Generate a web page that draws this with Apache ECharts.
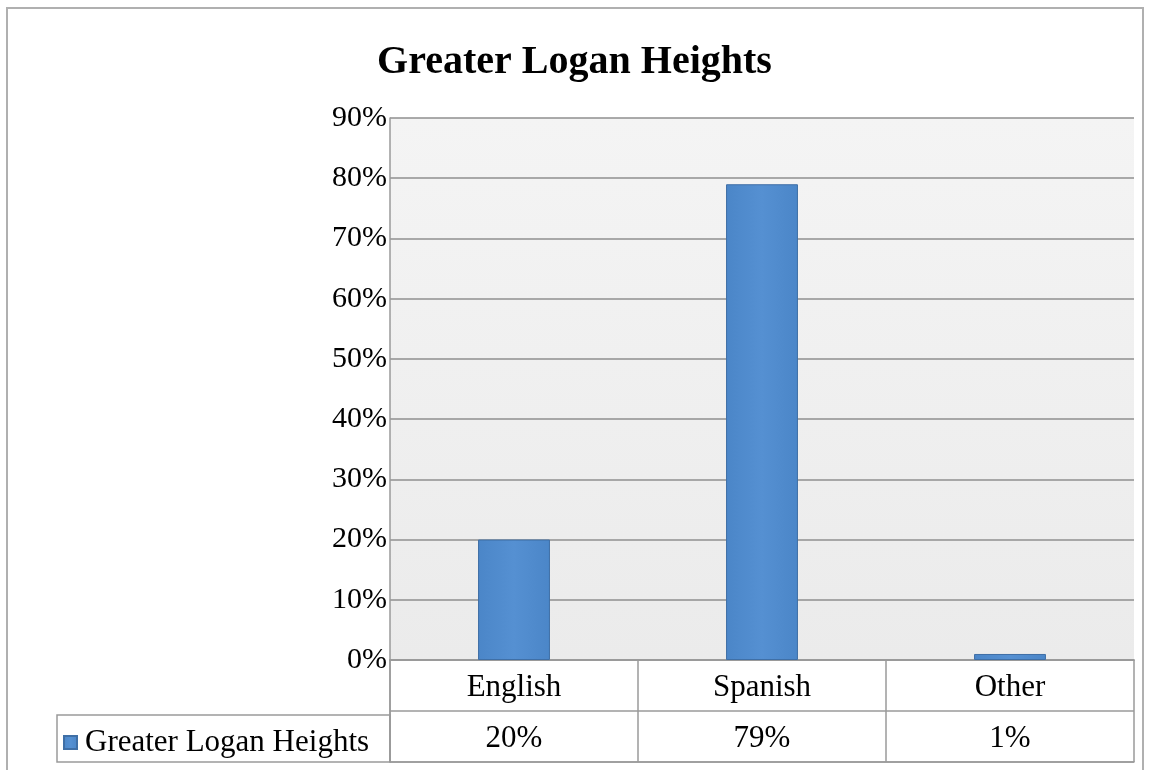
<!DOCTYPE html>
<html>
<head>
<meta charset="utf-8">
<script src="https://cdn.jsdelivr.net/npm/echarts@6/dist/echarts.min.js"></script>
<style>
  html, body { margin: 0; padding: 0; background: #fff; }
  #chart { width: 1149px; height: 770px; }
</style>
</head>
<body>
<div id="chart"></div>
<script>
// data
const chartTitle = 'Greater Logan Heights'
const categories = ['English', 'Spanish', 'Other']
const seriesName = 'Greater Logan Heights'
const shares = [20, 79, 1]
const yTicks = { min: 0, max: 90, step: 10 }

const serif = "'Liberation Serif', 'Times New Roman', serif"
const gridColor = '#9a9a9a'

const chart = echarts.init(document.getElementById('chart'))

const options = {
  backgroundColor: '#fff',
  animation: false,
  title: {
    text: chartTitle,
    left: 'center',
    top: 38,
    textStyle: { fontFamily: serif, fontSize: 40, fontWeight: 'bold', color: '#000' }
  },
  legend: {
    data: [seriesName],
    left: 58,
    top: 722,
    icon: 'rect',
    itemWidth: 13,
    itemHeight: 13,
    itemGap: 4,
    textStyle: { fontFamily: serif, fontSize: 31, color: '#000', padding: [0, 0, 0, 3] }
  },
  grid: [
    { left: 390, right: 15, top: 118, height: 542, containLabel: false,
      show: true, borderWidth: 0,
      backgroundColor: new echarts.graphic.LinearGradient(0, 0, 0, 1, [
        { offset: 0, color: '#f4f4f4' },
        { offset: 1, color: '#ebebeb' }
      ]) },
    { left: 390, right: 15, top: 660, height: 102, containLabel: false }
  ],
  xAxis: [
    {
      type: 'category',
      gridIndex: 0,
      data: categories,
      axisLine: { show: true, lineStyle: { color: gridColor, width: 1.5 } },
      axisTick: { show: false },
      axisLabel: { show: false }
    },
    {
      type: 'category',
      gridIndex: 1,
      position: 'top',
      data: categories,
      axisLine: { show: true, lineStyle: { color: gridColor, width: 1.5 } },
      axisTick: { show: false },
      splitLine: { show: true, lineStyle: { color: gridColor, width: 1.5 } },
      axisLabel: { margin: -28, verticalAlign: 'middle', fontFamily: serif, fontSize: 31, color: '#000' }
    },
    {
      type: 'category',
      gridIndex: 1,
      position: 'bottom',
      data: shares.map(v => v + '%'),
      axisLine: { show: true, lineStyle: { color: gridColor, width: 1.5 } },
      axisTick: { show: false },
      axisLabel: { margin: -23, verticalAlign: 'middle', fontFamily: serif, fontSize: 31, color: '#000' }
    }
  ],
  yAxis: [
    {
      type: 'value',
      gridIndex: 0,
      min: yTicks.min,
      max: yTicks.max,
      interval: yTicks.step,
      axisLine: { show: true, lineStyle: { color: gridColor, width: 1.5 } },
      axisTick: { show: false },
      axisLabel: { formatter: '{value}%', margin: 3, fontFamily: serif, fontSize: 30, color: '#000' },
      splitLine: { show: true, lineStyle: { color: '#8f8f8f', width: 1.5 } }
    },
    {
      type: 'category',
      gridIndex: 1,
      data: ['', ''],
      axisLine: { show: true, lineStyle: { color: gridColor, width: 1.5 } },
      axisTick: { show: false },
      axisLabel: { show: false },
      splitLine: { show: true, lineStyle: { color: gridColor, width: 1.5 } }
    }
  ],
  graphic: [
    // outer frame
    { type: 'rect', shape: { x: 7, y: 8, width: 1136, height: 800 }, silent: true,
      style: { fill: 'none', stroke: '#b0b0b0', lineWidth: 2 } },
    // legend cell of the data table
    { type: 'rect', shape: { x: 57, y: 715, width: 333, height: 47 }, silent: true,
      style: { fill: 'none', stroke: gridColor, lineWidth: 1.5 } }
  ],
  series: [
    {
      name: seriesName,
      type: 'bar',
      xAxisIndex: 0,
      yAxisIndex: 0,
      data: shares,
      barWidth: '29%',
      itemStyle: {
        color: new echarts.graphic.LinearGradient(0, 0, 1, 0, [
          { offset: 0, color: '#4b86c8' },
          { offset: 0.5, color: '#5590d2' },
          { offset: 1, color: '#4b86c8' }
        ]),
        borderColor: '#3f6fa6',
        borderWidth: 1
      }
    }
  ]
}

chart.setOption(options)
</script>
</body>
</html>
